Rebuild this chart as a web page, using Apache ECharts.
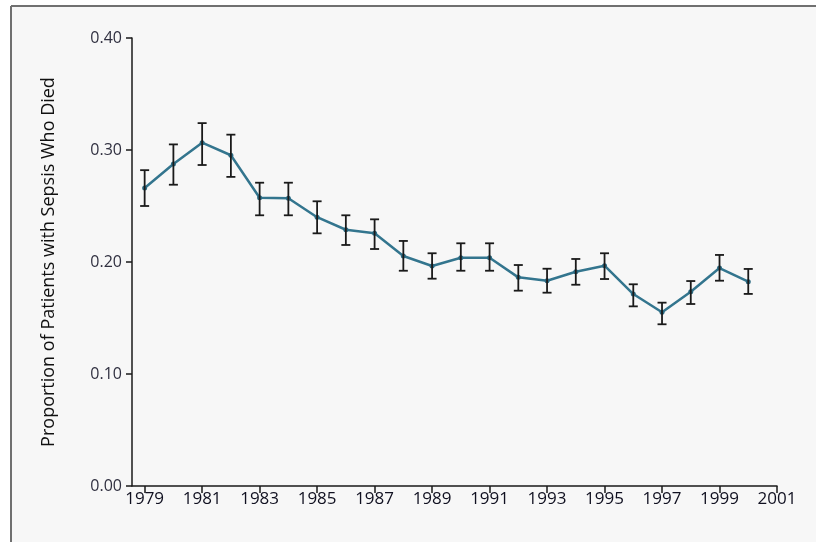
<!DOCTYPE html>
<html>
<head>
<meta charset="utf-8">
<script src="https://cdn.jsdelivr.net/npm/echarts@6/dist/echarts.min.js"></script>
<style>
  html, body { margin: 0; padding: 0; background: #ffffff; }
  #chart { width: 816px; height: 542px; }
</style>
</head>
<body>
<div id="chart"></div>
<script>
// 数据
var years = [1979, 1980, 1981, 1982, 1983, 1984, 1985, 1986, 1987, 1988, 1989,
  1990, 1991, 1992, 1993, 1994, 1995, 1996, 1997, 1998, 1999, 2000]
var proportion = [0.266, 0.2875, 0.3065, 0.2953, 0.2574, 0.2569, 0.240, 0.2288, 0.2256, 0.2054, 0.1964,
  0.2038, 0.2038, 0.1863, 0.1833, 0.1913, 0.1967, 0.1714, 0.1551, 0.1735, 0.1946, 0.1824]
var upper = [0.282, 0.305, 0.324, 0.3137, 0.2708, 0.2708, 0.2542, 0.2417, 0.2381, 0.2188, 0.2078,
  0.2167, 0.2167, 0.1973, 0.194, 0.2027, 0.2078, 0.1801, 0.1637, 0.183, 0.2063, 0.1938]
var lower = [0.250, 0.269, 0.2866, 0.276, 0.2417, 0.2417, 0.2256, 0.2152, 0.2116, 0.1922, 0.1851,
  0.1922, 0.1922, 0.1744, 0.1726, 0.1797, 0.1848, 0.1604, 0.1444, 0.1625, 0.1833, 0.1715]
var xTicks = [1979, 1981, 1983, 1985, 1987, 1989, 1991, 1993, 1995, 1997, 1999, 2001]

var chart = echarts.init(document.getElementById('chart'))

var lineData = years.map(function (y, i) { return [y, proportion[i]] })
var errData = years.map(function (y, i) { return [y, lower[i], upper[i]] })

chart.setOption({
  backgroundColor: '#ffffff',
  animation: false,
  graphic: [
    // 背景和边框
    { type: 'rect', shape: { x: 11, y: 6, width: 805, height: 536 }, style: { fill: '#f7f7f7' }, z: -10 },
    { type: 'line', shape: { x1: 11, y1: 6, x2: 816, y2: 6 }, style: { stroke: '#707070', lineWidth: 2 }, z: -5 },
    { type: 'line', shape: { x1: 11, y1: 6, x2: 11, y2: 542 }, style: { stroke: '#707070', lineWidth: 2 }, z: -5 }
  ],
  grid: {
    left: 132,
    right: 39,
    top: 38,
    bottom: 56
  },
  xAxis: {
    type: 'value',
    min: 1978.56,
    max: 2001,
    splitLine: { show: false },
    axisLine: { show: true, onZero: false, lineStyle: { color: '#1a1a1a', width: 1.5 } },
    axisTick: {
      show: true,
      length: 7,
      customValues: xTicks,
      lineStyle: { color: '#1a1a1a', width: 1.5 }
    },
    axisLabel: {
      customValues: xTicks,
      margin: 5,
      color: '#101020',
      fontFamily: 'Open Sans',
      fontSize: 17,
      formatter: function (v) { return String(v) }
    }
  },
  yAxis: {
    type: 'value',
    min: 0,
    max: 0.4,
    interval: 0.1,
    name: 'Proportion of Patients with Sepsis Who Died',
    nameLocation: 'middle',
    nameGap: 74,
    nameTextStyle: {
      color: '#101010',
      fontFamily: 'Open Sans',
      fontSize: 18
    },
    splitLine: { show: false },
    axisLine: { show: true, lineStyle: { color: '#1a1a1a', width: 1.5 } },
    axisTick: { show: true, length: 6, lineStyle: { color: '#1a1a1a', width: 1.5 } },
    axisLabel: {
      margin: 10,
      color: '#303040',
      fontFamily: 'Open Sans',
      fontSize: 16,
      formatter: function (v) { return v.toFixed(2) }
    }
  },
  series: [
    {
      name: 'proportion',
      type: 'line',
      data: lineData,
      symbol: 'circle',
      symbolSize: 5,
      lineStyle: { color: '#33758e', width: 2.5 },
      itemStyle: { color: '#2c6a82' },
      z: 3
    },
    {
      name: 'ci',
      type: 'custom',
      data: errData,
      z: 4,
      renderItem: function (params, api) {
        var x = api.value(0)
        var lo = api.coord([x, api.value(1)])
        var hi = api.coord([x, api.value(2)])
        var w = 4.5
        var st = { stroke: '#1a1a1a', lineWidth: 1.8 }
        return {
          type: 'group',
          children: [
            { type: 'line', shape: { x1: lo[0], y1: lo[1], x2: hi[0], y2: hi[1] }, style: st },
            { type: 'line', shape: { x1: hi[0] - w, y1: hi[1], x2: hi[0] + w, y2: hi[1] }, style: st },
            { type: 'line', shape: { x1: lo[0] - w, y1: lo[1], x2: lo[0] + w, y2: lo[1] }, style: st }
          ]
        }
      }
    }
  ]
})
</script>
</body>
</html>
